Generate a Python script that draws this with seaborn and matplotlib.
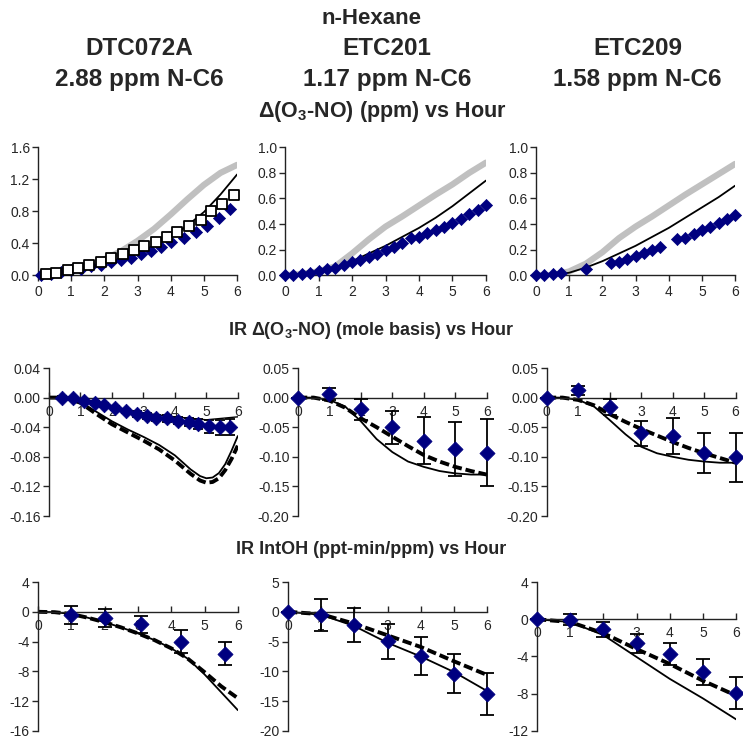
"""
n-Hexane chamber runs: d(O3-NO), IR d(O3-NO) and IR IntOH vs hour.
"""

import numpy as np
import matplotlib; matplotlib.use('Agg')
import matplotlib.pyplot as plt
import seaborn as sns

sns.set_style('ticks')
plt.rcParams['font.family'] = ['Liberation Sans', 'DejaVu Sans']
plt.rcParams['axes.unicode_minus'] = False
plt.rcParams['mathtext.fontset'] = 'custom'
plt.rcParams['mathtext.bf'] = 'Liberation Sans:bold'
plt.rcParams['mathtext.rm'] = 'Liberation Sans:bold'
plt.rcParams['mathtext.default'] = 'bf'

NAVY = '#000080'
GRAY = '#c0c0c0'

runs = ['DTC072A', 'ETC201', 'ETC209']
conc = ['2.88 ppm N-C6', '1.17 ppm N-C6', '1.58 ppm N-C6']

# ---- top row: d(O3-NO) (ppm)
hr_mod = [0, 0.5, 1, 1.5, 2, 2.5, 3, 3.5, 4, 4.5, 5, 5.5, 6]

gray_a = [0, 0.02, 0.06, 0.12, 0.2, 0.3, 0.43, 0.58, 0.76, 0.95, 1.13, 1.28, 1.38]
black_a = [0, 0.02, 0.05, 0.09, 0.14, 0.2, 0.28, 0.37, 0.48, 0.62, 0.79, 1.01, 1.26]
hr_a = [0.1, 0.4, 0.7, 1.0, 1.3, 1.6, 1.9, 2.2, 2.5, 2.8, 3.1, 3.4, 3.7, 4.0,
        4.4, 4.75, 5.1, 5.45, 5.8]
exp_a = [0.0, 0.02, 0.04, 0.06, 0.08, 0.11, 0.13, 0.16, 0.19, 0.22, 0.26, 0.3,
         0.35, 0.41, 0.47, 0.54, 0.62, 0.72, 0.83]
hr_sq = [0.25, 0.55, 0.9, 1.2, 1.55, 1.9, 2.2, 2.55, 2.9, 3.2, 3.55, 3.9, 4.2,
         4.55, 4.9, 5.2, 5.55, 5.9]
exp_sq = [0.01, 0.03, 0.06, 0.09, 0.13, 0.17, 0.22, 0.26, 0.31, 0.36, 0.42, 0.48,
          0.54, 0.61, 0.69, 0.8, 0.89, 1.0]

gray_b = [0, 0.01, 0.03, 0.07, 0.17, 0.28, 0.38, 0.46, 0.545, 0.63, 0.71, 0.8, 0.88]
black_b = [0, 0.01, 0.03, 0.06, 0.11, 0.17, 0.23, 0.3, 0.37, 0.45, 0.54, 0.64, 0.74]
hr_b = [0, 0.25, 0.5, 0.75, 1, 1.25, 1.5, 1.75, 2, 2.25, 2.5, 2.75, 3, 3.25, 3.5,
        3.75, 4, 4.25, 4.5, 4.75, 5, 5.25, 5.5, 5.75, 6]
exp_b = [0, 0.005, 0.01, 0.02, 0.035, 0.05, 0.06, 0.08, 0.1, 0.12, 0.14, 0.17, 0.2,
         0.22, 0.25, 0.29, 0.3, 0.33, 0.35, 0.38, 0.41, 0.44, 0.48, 0.51, 0.55]

gray_c = [0, 0.0, 0.03, 0.09, 0.18, 0.29, 0.38, 0.46, 0.545, 0.63, 0.71, 0.79, 0.87]
black_c = [0, 0.0, 0.02, 0.06, 0.11, 0.17, 0.23, 0.3, 0.37, 0.45, 0.53, 0.61, 0.7]
hr_c = [0, 0.25, 0.5, 0.75, 1.5, 2.25, 2.5, 2.75, 3, 3.25, 3.5, 3.75, 4.25, 4.5,
        4.75, 5, 5.25, 5.5, 5.75, 6]
exp_c = [0, 0.005, 0.01, 0.015, 0.05, 0.095, 0.1, 0.13, 0.15, 0.175, 0.2, 0.22,
         0.28, 0.29, 0.32, 0.35, 0.38, 0.41, 0.44, 0.47]

# ---- middle row: IR d(O3-NO) (mole basis)
hr_ir_a = [0, 0.5, 1, 1.5, 2, 2.5, 3, 3.5, 4, 4.5, 4.8, 5, 5.2, 5.4, 5.6, 5.8, 6]
ir_solid_a = [0, 0, -0.006, -0.019, -0.032, -0.043, -0.053, -0.064, -0.078, -0.097,
              -0.106, -0.109, -0.108, -0.102, -0.09, -0.072, -0.052]
ir_dash_a = [0, 0, -0.007, -0.022, -0.036, -0.047, -0.058, -0.07, -0.085, -0.103,
             -0.112, -0.115, -0.114, -0.109, -0.098, -0.083, -0.065]
hr_thin_a = [0, 1, 2, 3, 4, 5, 6]
ir_thin_a = [0, -0.004, -0.013, -0.021, -0.026, -0.03, -0.026]
hr_ire_a = [0.4, 0.75, 1.1, 1.45, 1.75, 2.1, 2.45, 2.8, 3.1, 3.4, 3.75, 4.1, 4.45,
            4.75, 5.1, 5.45, 5.75]
ir_exp_a = [0, -0.001, -0.004, -0.007, -0.01, -0.014, -0.018, -0.022, -0.025, -0.027,
            -0.028, -0.031, -0.033, -0.036, -0.039, -0.04, -0.04]
ir_err_a = [0.002, 0.002, 0.002, 0.003, 0.003, 0.003, 0.003, 0.004, 0.004, 0.004,
            0.005, 0.005, 0.006, 0.007, 0.009, 0.01, 0.011]

hr_ir = [0, 0.5, 1, 1.5, 2, 2.5, 3, 3.5, 4, 4.5, 5, 5.5, 6]
ir_solid_b = [0, 0, -0.004, -0.015, -0.04, -0.07, -0.092, -0.108, -0.117, -0.124,
              -0.128, -0.13, -0.13]
ir_dash_b = [0, 0, -0.005, -0.017, -0.035, -0.05, -0.066, -0.082, -0.097, -0.108,
             -0.117, -0.124, -0.13]
hr_ire = [0, 1, 2, 3, 4, 5, 6]
ir_exp_b = [0, 0.006, -0.02, -0.05, -0.073, -0.087, -0.093]
ir_err_b = [0, 0.01, 0.018, 0.028, 0.04, 0.045, 0.057]

ir_solid_c = [0, 0, -0.004, -0.015, -0.038, -0.062, -0.083, -0.094, -0.1, -0.105,
              -0.108, -0.11, -0.11]
ir_dash_c = [0, 0, -0.004, -0.013, -0.028, -0.041, -0.053, -0.064, -0.075, -0.085,
             -0.094, -0.102, -0.11]
ir_exp_c = [0, 0.012, -0.016, -0.06, -0.065, -0.094, -0.101]
ir_err_c = [0, 0.007, 0.014, 0.021, 0.031, 0.034, 0.042]

# ---- bottom row: IR IntOH (ppt-min/ppm)
hr_oh = [0, 0.5, 1, 1.5, 2, 2.5, 3, 3.5, 4, 4.5, 5, 5.5, 6]
oh_solid_a = [0, -0.05, -0.3, -0.8, -1.4, -2.1, -2.9, -3.8, -4.9, -6.3, -8.4, -10.8, -13.2]
oh_dash_a = [0, -0.05, -0.3, -0.8, -1.4, -2.1, -2.9, -3.8, -4.9, -6.3, -8.1, -10.0, -11.6]
hr_ohe_a = [1.0, 2.0, 3.1, 4.3, 5.6]
oh_exp_a = [-0.45, -0.8, -1.7, -4.0, -5.6]
oh_err_a = [1.2, 1.2, 1.2, 1.5, 1.6]

hr_oh2 = [0, 1, 2, 3, 4, 5, 6]
oh_solid_b = [0, -0.5, -2.4, -5.2, -7.5, -10.1, -13.3]
oh_dash_b = [0, -0.4, -2.0, -3.95, -5.9, -8.3, -10.6]
oh_exp_b = [0, -0.55, -2.25, -4.95, -7.4, -10.4, -13.8]
oh_err_b = [0, 2.75, 2.9, 2.95, 3.15, 3.3, 3.6]

oh_solid_c = [0, -0.3, -1.7, -4.05, -6.4, -8.5, -10.75]
oh_dash_c = [0, -0.3, -1.5, -3.2, -4.8, -6.6, -8.2]
oh_exp_c = [0, -0.04, -1.07, -2.6, -3.76, -5.7, -7.9]
oh_err_c = [0, 0.6, 0.8, 1.0, 1.2, 1.4, 1.7]

FS_TICK = 10
DASH = (0, (2.4, 1.0))


def style_ax(ax, ylim, yticks, fmt, zero_axis):
    ax.set_xlim(0, 6)
    ax.set_ylim(*ylim)
    ax.set_xticks(range(7))
    ax.set_yticks(yticks)
    ax.set_yticklabels([fmt % v for v in yticks])
    ax.spines['top'].set_visible(False)
    ax.spines['right'].set_visible(False)
    for s in ['left', 'bottom']:
        ax.spines[s].set_linewidth(1.0)
        ax.spines[s].set_color('#222222')
    if zero_axis:
        ax.spines['bottom'].set_position(('data', 0))
        ax.tick_params(axis='x', direction='in', length=4, pad=5)
    else:
        ax.tick_params(axis='x', direction='out', length=4, pad=3)
    ax.tick_params(axis='y', direction='out', length=4, pad=2)
    ax.tick_params(labelsize=FS_TICK, width=1.0)
    ax.set_xlabel('')
    ax.set_ylabel('')
    ax.margins(0)


def errs(ax, x, y, e, cap):
    ax.errorbar(x, y, yerr=e, fmt='none', ecolor='black', elinewidth=1.3,
                capsize=cap, capthick=1.3, zorder=4, clip_on=False)


def diamonds(ax, x, y, s):
    sns.scatterplot(x=x, y=y, ax=ax, marker='D', color=NAVY, edgecolor=NAVY,
                    s=s, linewidth=0.5, zorder=5, clip_on=False)


fig = plt.figure(figsize=(7.43, 7.40), dpi=100)

top_pos = [[0.0511, 0.628, 0.268, 0.173],
           [0.3836, 0.628, 0.2705, 0.173],
           [0.7214, 0.628, 0.268, 0.173]]
mid_pos = [[0.066, 0.3027, 0.254, 0.200],
           [0.401, 0.3027, 0.254, 0.200],
           [0.736, 0.3027, 0.254, 0.200]]
bot_pos = [[0.0511, 0.0122, 0.269, 0.2013],
           [0.3876, 0.0122, 0.268, 0.2013],
           [0.7227, 0.0122, 0.268, 0.2013]]

# top row
top_data = [(gray_a, black_a, hr_a, exp_a), (gray_b, black_b, hr_b, exp_b),
            (gray_c, black_c, hr_c, exp_c)]
for i, (g, b, hx, ex) in enumerate(top_data):
    ax = fig.add_axes(top_pos[i])
    sns.lineplot(x=hr_mod, y=g, ax=ax, color=GRAY, lw=4.5, zorder=1)
    sns.lineplot(x=hr_mod, y=b, ax=ax, color='black', lw=1.3, zorder=2)
    diamonds(ax, hx, ex, 38)
    if i == 0:
        sns.scatterplot(x=hr_sq, y=exp_sq, ax=ax, marker='s', facecolor='white',
                        edgecolor='black', s=48, linewidth=1.3, zorder=6,
                        clip_on=False)
        style_ax(ax, (0, 1.6), [0, 0.4, 0.8, 1.2, 1.6], '%.1f', False)
    else:
        style_ax(ax, (0, 1.0), [0, 0.2, 0.4, 0.6, 0.8, 1.0], '%.1f', False)

# middle row
mid_data = [(hr_ir_a, ir_solid_a, ir_dash_a, hr_ire_a, ir_exp_a, ir_err_a),
            (hr_ir, ir_solid_b, ir_dash_b, hr_ire, ir_exp_b, ir_err_b),
            (hr_ir, ir_solid_c, ir_dash_c, hr_ire, ir_exp_c, ir_err_c)]
for i, (hx, so, da, ex_x, ex, er) in enumerate(mid_data):
    ax = fig.add_axes(mid_pos[i])
    sns.lineplot(x=hx, y=so, ax=ax, color='black', lw=1.3, zorder=2)
    sns.lineplot(x=hx, y=da, ax=ax, color='black', lw=2.8, linestyle=DASH, zorder=2)
    if i == 0:
        sns.lineplot(x=hr_thin_a, y=ir_thin_a, ax=ax, color='black', lw=1.0, zorder=2)
        errs(ax, ex_x, ex, er, 3.5)
        diamonds(ax, ex_x, ex, 55)
        style_ax(ax, (-0.16, 0.04), [0.04, 0, -0.04, -0.08, -0.12, -0.16], '%.2f', True)
    else:
        errs(ax, ex_x, ex, er, 5)
        diamonds(ax, ex_x, ex, 60)
        style_ax(ax, (-0.20, 0.05), [0.05, 0, -0.05, -0.10, -0.15, -0.20], '%.2f', True)

# bottom row
bot_data = [(hr_oh, oh_solid_a, oh_dash_a, hr_ohe_a, oh_exp_a, oh_err_a,
             (-16, 4), [4, 0, -4, -8, -12, -16]),
            (hr_oh2, oh_solid_b, oh_dash_b, hr_oh2, oh_exp_b, oh_err_b,
             (-20, 5), [5, 0, -5, -10, -15, -20]),
            (hr_oh2, oh_solid_c, oh_dash_c, hr_oh2, oh_exp_c, oh_err_c,
             (-12, 4), [4, 0, -4, -8, -12])]
for i, (hx, so, da, ex_x, ex, er, yl, yt) in enumerate(bot_data):
    ax = fig.add_axes(bot_pos[i])
    sns.lineplot(x=hx, y=so, ax=ax, color='black', lw=1.3, zorder=2)
    sns.lineplot(x=hx, y=da, ax=ax, color='black', lw=2.8, linestyle=DASH, zorder=2)
    errs(ax, ex_x, ex, er, 5)
    diamonds(ax, ex_x, ex, 60)
    style_ax(ax, yl, yt, '%d', True)

# titles
fig.text(0.5, 0.975, 'n-Hexane', ha='center', va='center', fontsize=16, fontweight='bold')
col_x = [0.187, 0.521, 0.858]
for i in range(3):
    fig.text(col_x[i], 0.935, runs[i], ha='center', va='center', fontsize=17.5,
             fontweight='bold')
    fig.text(col_x[i], 0.893, conc[i], ha='center', va='center', fontsize=17.5,
             fontweight='bold')
fig.text(0.515, 0.850, r'$\Delta$(O$_3$-NO) (ppm) vs Hour', ha='center', va='center',
         fontsize=15.5, fontweight='bold')
fig.text(0.5, 0.554, r'IR $\Delta$(O$_3$-NO) (mole basis) vs Hour', ha='center',
         va='center', fontsize=13, fontweight='bold')
fig.text(0.5, 0.257, 'IR IntOH (ppt-min/ppm) vs Hour', ha='center', va='center',
         fontsize=13, fontweight='bold')

plt.savefig('out.png', dpi=100)
plt.close()
